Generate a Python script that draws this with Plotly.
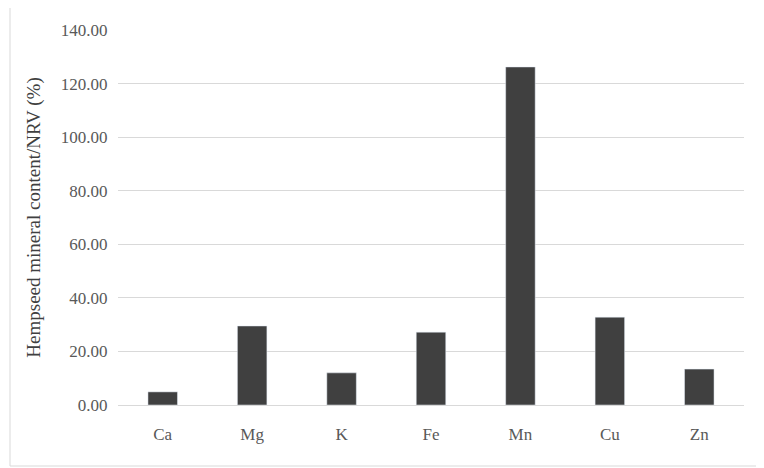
import plotly.graph_objects as go

minerals = ["Ca", "Mg", "K", "Fe", "Mn", "Cu", "Zn"]
nrv_pct = [4.9, 29.5, 12.0, 27.2, 126.2, 32.8, 13.4]

W, H = 764, 468
L, R, T, B = 110, 28, 22, 71
pw, ph = W - L - R, H - T - B

fig = go.Figure(go.Bar(x=minerals, y=nrv_pct, marker_color="#404040", width=0.33))

fig.update_layout(
    width=W, height=H,
    paper_bgcolor="white", plot_bgcolor="white",
    margin=dict(l=L, r=R, t=T, b=B),
    font=dict(family="Liberation Serif, DejaVu Serif, serif", size=17, color="#595959"),
    showlegend=False,
    shapes=[dict(type="rect", xref="paper", yref="paper",
                 x0=(2 - L) / pw, x1=(W - 6 - L) / pw,
                 y0=-(H - 10 - (T + ph)) / ph, y1=(T + ph - 2 + 8) / ph,
                 line=dict(color="#d9d9d9", width=1))],
)
fig.update_yaxes(range=[0, 140], dtick=20, tickformat=".2f", gridcolor="#d9d9d9",
                 zeroline=False, ticks="outside", ticklen=6, tickcolor="white",
                 title=dict(text="Hempseed mineral content/NRV (%)", font=dict(size=19, color="#404040")))
fig.update_xaxes(showline=True, linecolor="#d9d9d9", ticks="", ticklabelstandoff=14)

fig.write_html("out.html")
